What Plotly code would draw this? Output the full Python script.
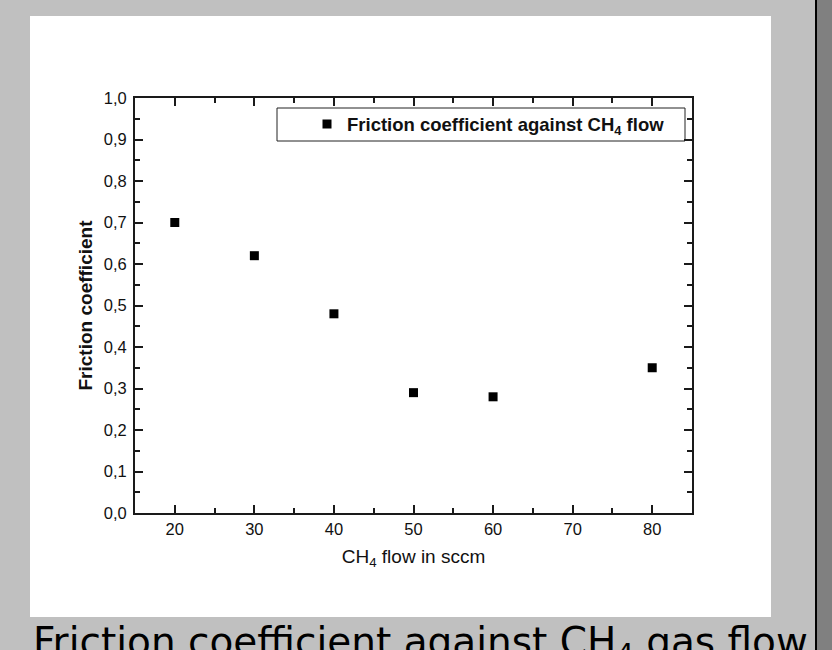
import plotly.graph_objects as go

# Measured friction coefficient versus methane flow
ch4_flow = [20, 30, 40, 50, 60, 80]
friction = [0.70, 0.62, 0.48, 0.29, 0.28, 0.35]

x_ticks = [20, 30, 40, 50, 60, 70, 80]
y_ticks = [0.0, 0.1, 0.2, 0.3, 0.4, 0.5, 0.6, 0.7, 0.8, 0.9, 1.0]

W, H = 832, 650
L, R, T, B = 135, 692, 98, 513  # plot area in pixels


def px(p):
    return (p - L) / (R - L)


def py(p):
    return (B - p) / (B - T)


FONT = "Liberation Sans, Arial, sans-serif"
AX = "#1a1a1a"

fig = go.Figure()
fig.add_trace(go.Scatter(
    x=ch4_flow, y=friction, mode="markers",
    marker=dict(symbol="square", size=9, color="black"),
    name="<b>Friction coefficient against CH<sub>4</sub> flow</b>",
    showlegend=True,
))

axis_common = dict(
    showline=True, linecolor=AX, linewidth=2, mirror="ticks",
    ticks="inside", tickcolor=AX, tickwidth=1.5, ticklen=8,
    showgrid=False, zeroline=False,
    tickfont=dict(family=FONT, size=16.5, color="#111"),
)

fig.update_xaxes(
    range=[15, 85], tickvals=x_ticks,
    minor=dict(ticks="inside", ticklen=5, tickwidth=1.5, tickcolor=AX, dtick=5, tick0=15, showgrid=False),
    title=dict(text="CH<sub>4</sub> flow in sccm", font=dict(family=FONT, size=19, color="#111"), standoff=13),
    automargin=False,
    **axis_common,
)
fig.update_yaxes(
    range=[0, 1], tickvals=y_ticks, tickformat=".1f",
    minor=dict(ticks="inside", ticklen=5, tickwidth=1.5, tickcolor=AX, dtick=0.05, tick0=0, showgrid=False),
    title=dict(text="<b>Friction coefficient</b>", font=dict(family=FONT, size=19, color="#111"), standoff=6),
    ticklabelstandoff=3,
    automargin=False,
    **axis_common,
)

shapes = [
    # white page behind the chart
    dict(type="rect", xref="paper", yref="paper", layer="below",
         x0=px(30), x1=px(771), y0=py(617), y1=py(16),
         fillcolor="white", line=dict(width=0)),
    # legend frame
    dict(type="rect", xref="paper", yref="paper", layer="below",
         x0=px(277), x1=px(685), y0=py(141), y1=py(108),
         fillcolor="white", line=dict(color="#222", width=1)),
    # window border strip on the right
    dict(type="rect", xref="paper", yref="paper",
         x0=px(817), x1=px(833), y0=py(651), y1=py(-1),
         fillcolor="#808080", line=dict(width=0)),
    dict(type="rect", xref="paper", yref="paper",
         x0=px(815), x1=px(817), y0=py(651), y1=py(-1),
         fillcolor="black", line=dict(width=0)),
]

fig.update_layout(
    width=W, height=H,
    margin=dict(l=L, r=W - R, t=T, b=H - B, pad=0),
    paper_bgcolor="#c0c0c0", plot_bgcolor="white",
    separators=",.",
    shapes=shapes,
    legend=dict(
        x=px(307), y=py(124.5), xanchor="left", yanchor="middle",
        bgcolor="rgba(0,0,0,0)", borderwidth=0,
        font=dict(family=FONT, size=18.5, color="#111"),
    ),
    annotations=[dict(
        text="Friction coefficient against CH<sub>4</sub> gas flow",
        xref="paper", yref="paper", x=px(31), y=py(617),
        xanchor="left", yanchor="top", showarrow=False,
        font=dict(family="DejaVu Sans", size=39, color="black"),
    )],
)

fig.write_html("out.html")
